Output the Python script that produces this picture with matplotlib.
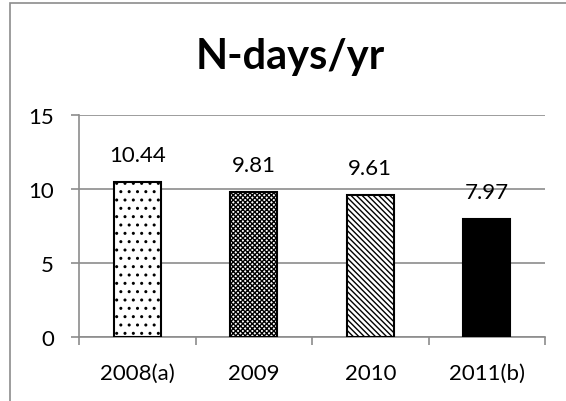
import matplotlib
matplotlib.use("Agg")
import matplotlib.pyplot as plt
from matplotlib.patches import Rectangle

categories = ["2008(a)", "2009", "2010", "2011(b)"]
values = [10.44, 9.81, 9.61, 7.97]
labels = ["10.44", "9.81", "9.61", "7.97"]
hatches = ["..", "xxxxxxx", "\\\\\\\\\\\\", ""]
facecolors = ["white", "white", "white", "black"]
yticks = [0, 5, 10, 15]
title = "N-days/yr"

plt.rcParams["hatch.linewidth"] = 1.0
fig = plt.figure(figsize=(5.66, 4.02), dpi=100)
fig.patch.set_facecolor("white")

# outer chart border
fig.add_artist(Rectangle((10/566, -0.2), 2.0, 1.2 - 4/402, transform=fig.transFigure,
                         fill=False, edgecolor="#8c8c8c", linewidth=1.2))

ax = fig.add_axes([79/566, 1-337.5/402, 466/566, (337.5-116)/402])
x = range(len(categories))
bars = ax.bar(x, values, width=0.4, color=facecolors, edgecolor="black",
              linewidth=1.5, zorder=3)
for b, h in zip(bars, hatches):
    b.set_hatch(h)

for xi, v, lab in zip(x, values, labels):
    ax.annotate(lab, (xi, v), xytext=(0, 19.5), textcoords="offset points",
                ha="center", va="center", fontsize=16, family="Lato")

ax.set_xlim(-0.5, len(categories) - 0.5)
ax.set_ylim(0, 15)
ax.set_yticks(yticks)
ax.set_yticklabels([str(t) for t in yticks], fontsize=16, family="Lato")
ax.set_xticks(list(x))
ax.set_xticklabels(categories, fontsize=16, family="Lato")
ax.tick_params(axis="x", which="major", length=0, pad=19)
ax.set_xticks([i - 0.5 for i in range(len(categories) + 1)], minor=True)
ax.tick_params(axis="x", which="minor", length=6, color="#8c8c8c", width=1.2)
ax.tick_params(axis="y", length=6, color="#8c8c8c", width=1.2, pad=12)
ax.yaxis.grid(True, color="#8c8c8c", linewidth=1.2, zorder=0)
ax.set_axisbelow(True)
for s in ["top", "right"]:
    ax.spines[s].set_visible(False)
for s in ["left", "bottom"]:
    ax.spines[s].set_color("#8c8c8c")
    ax.spines[s].set_linewidth(1.2)

fig.text(290/566, 1-57/402, title, ha="center", va="center", fontsize=30,
         fontweight="bold", family="Lato")

fig.savefig("out.png", dpi=100, facecolor="white")
